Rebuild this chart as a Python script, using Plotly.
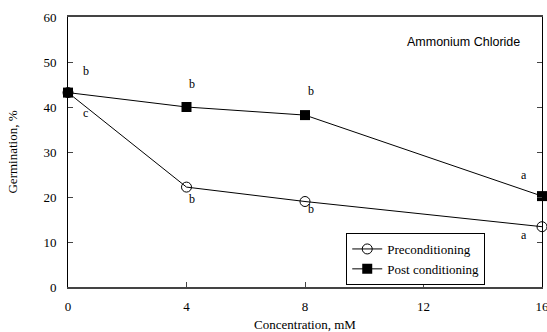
import plotly.graph_objects as go

conc = [0, 4, 8, 16]
pre = [43.2, 22.2, 19.0, 13.4]
post = [43.2, 40.0, 38.2, 20.2]
x_ticks = [0, 4, 8, 12, 16]
y_ticks = [0, 10, 20, 30, 40, 50, 60]

letters_text = ["b", "c", "b", "b", "b", "b", "a", "a"]
letters_x = [0.6, 0.6, 4.2, 4.2, 8.2, 8.2, 15.4, 15.4]
letters_y = [48.0, 38.7, 45.1, 19.6, 43.6, 17.3, 24.9, 11.6]

serif = "Liberation Serif, Times New Roman, serif"

fig = go.Figure()
fig.add_trace(go.Scatter(x=conc, y=pre, mode="lines+markers", name="Preconditioning",
                         line=dict(color="black", width=1),
                         marker=dict(symbol="circle-open", size=10, color="black", line=dict(width=1)),
                         cliponaxis=False))
fig.add_trace(go.Scatter(x=conc, y=post, mode="lines+markers", name="Post conditioning",
                         line=dict(color="black", width=1),
                         marker=dict(symbol="square", size=10, color="black"),
                         cliponaxis=False))

for t, xx, yy in zip(letters_text, letters_x, letters_y):
    fig.add_annotation(x=xx, y=yy, text=t, showarrow=False,
                       font=dict(family=serif, size=12, color="#000000"))

fig.add_annotation(x=0.958, y=0.907, xref="paper", yref="paper", text="Ammonium Chloride",
                   showarrow=False, xanchor="right", yanchor="middle",
                   font=dict(family="Liberation Sans, Arial, sans-serif", size=12.5, color="black"))

fig.update_layout(
    width=547, height=332,
    margin=dict(l=68, r=5, t=17, b=45),
    paper_bgcolor="white", plot_bgcolor="white",
    font=dict(family=serif, size=13, color="black"),
    showlegend=True,
    legend=dict(x=0.587, y=0.2, xanchor="left", yanchor="top",
                bordercolor="black", borderwidth=1, bgcolor="white",
                font=dict(family=serif, size=13, color="black"),
                tracegroupgap=0, itemwidth=30),
    xaxis=dict(range=[0, 16], tickvals=x_ticks, ticks="inside", ticklen=5,
               ticklabelstandoff=6, ticklabeloverflow="allow", automargin=False,
               showline=True, linecolor="#444444", linewidth=2, mirror=True,
               showgrid=False, zeroline=False,
               title=dict(text="Concentration, mM", font=dict(family=serif, size=13), standoff=7)),
    yaxis=dict(range=[0, 60], tickvals=y_ticks, ticks="inside", ticklen=5,
               ticklabelstandoff=8, automargin=False,
               showline=True, linecolor="black", linewidth=1, mirror="ticks",
               showgrid=False, zeroline=False,
               title=dict(text="Germination, %", font=dict(family=serif, size=13), standoff=22)),
)

fig.write_html("out.html")
